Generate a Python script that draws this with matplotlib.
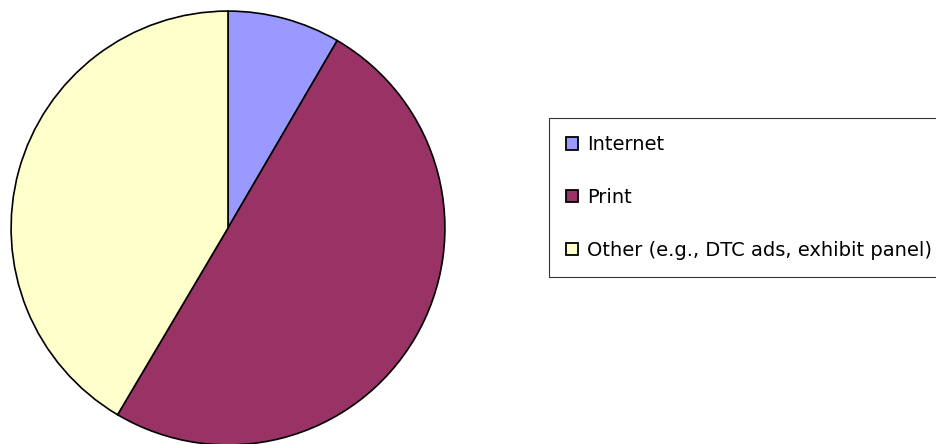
import matplotlib
matplotlib.use("Agg")
import matplotlib.pyplot as plt
from matplotlib.patches import Patch

categories = ["Internet", "Print", "Other (e.g., DTC ads, exhibit panel)"]
values = [8.4, 50.1, 41.5]
colors = ["#9999FF", "#993366", "#FFFFCC"]

W, H = 936, 444
fig = plt.figure(figsize=(W / 100, H / 100), dpi=100)
fig.patch.set_facecolor("white")

cx, cy, r = 228, 228, 218
ax = fig.add_axes([(cx - r) / W, (H - cy - r) / H, 2 * r / W, 2 * r / H])
ax.pie(values, colors=colors, startangle=90, counterclock=False,
       wedgeprops=dict(edgecolor="black", linewidth=1.2), radius=1)
ax.set_xlim(-1.005, 1.005)
ax.set_ylim(-1.005, 1.005)
ax.set_aspect("equal")
ax.axis("off")

handles = [Patch(facecolor=c, edgecolor="black", linewidth=1.3) for c in colors]
fs = 14
leg = fig.legend(handles, categories, loc="upper left",
                 bbox_to_anchor=(549 / W, 1 - 118 / H), bbox_transform=fig.transFigure,
                 frameon=True, fancybox=False, edgecolor="black", fontsize=fs,
                 labelspacing=1.74, borderpad=0.88, handlelength=0.62, handleheight=0.62,
                 handletextpad=0.46, borderaxespad=0)
leg.get_frame().set_linewidth(0.8)
for t in leg.get_texts():
    t.set_color("black")

fig.savefig("out.png", dpi=100)
